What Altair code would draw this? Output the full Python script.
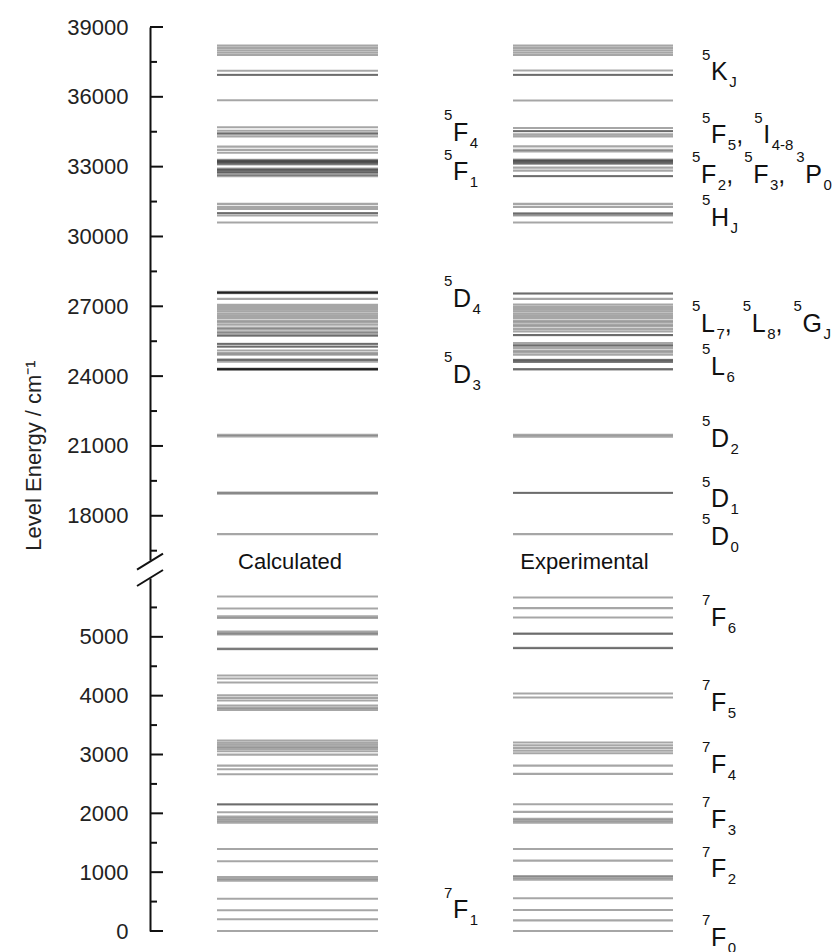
import altair as alt
import pandas as pd

# ---------------- data: crystal-field level energies (cm^-1) ----------------
CALC_UPPER = [38200, 38100, 38000, 37900, 37800, 37120, 36950, 36940, 35850,
              34690, 34540, 34430, 34420, 34300, 33860, 33720, 33600,
              33290, 33260, 33230, 33200, 33170, 33130, 33090,
              32920, 32880, 32850, 32800, 32760, 32720, 32640, 32590,
              31400, 31270, 31180, 31010, 31000, 30900, 30600,
              27620, 27600, 27590, 27570, 27560, 27320,
              27060, 26970, 26880, 26780, 26680, 26590, 26500, 26390, 26310, 26210,
              26090, 26020, 25920, 25850, 25750, 25740,
              25390, 25380, 25270, 25260, 25100, 24990, 24920, 24710, 24700, 24620,
              24320, 24310, 24300, 24290, 24280,
              21480, 21410, 19000, 18950, 17210]
EXP_UPPER = [38200, 38100, 38000, 37900, 37800, 37130, 36950, 36940, 35840,
             34660, 34530, 34520, 34390, 34300, 33870, 33720, 33650,
             33300, 33270, 33240, 33200, 33160, 33120, 32960, 32830, 32600, 32590,
             31400, 31270, 31010, 30960, 30900, 30600,
             27560, 27540, 27320,
             27070, 26970, 26880, 26780, 26680, 26590, 26500, 26390, 26310, 26210,
             26130, 26020, 25920, 25770, 25760,
             25420, 25320, 25310, 25210, 25100, 25020, 24920, 24700, 24690, 24620, 24610,
             24300, 24290,
             21480, 21400, 18990, 18980, 17210]
CALC_LOWER = [5686, 5482, 5350, 5320, 5090, 5060, 5040, 4800, 4790,
              4342, 4291, 4223, 4008, 3963, 3917, 3832, 3793, 3759,
              3237, 3200, 3165, 3130, 3095, 3056, 2998, 2811, 2750, 2665,
              2155, 2150, 2019, 1944, 1910, 1876, 1842,
              1395, 1185, 918, 884, 855,
              549, 352, 199, 0]
EXP_LOWER = [5668, 5488, 5329, 5057, 5050, 4813, 4806,
             4036, 3968,
             3203, 3158, 3112, 3066, 3022, 2811, 2670,
             2155, 2025, 1905, 1873, 1842,
             1395, 1196, 935, 907, 873,
             556, 357, 181, 0]

COLUMNS = ["Calculated", "Experimental"]

# term-symbol labels: (energy at label centre, column, [(multiplicity, L, J), ...])
UPPER_LABELS = [
    (37100, "right", [("5", "K", "J")]),
    (34400, "right", [("5", "F", "5"), ("5", "I", "4-8")]),
    (32700, "right2", [("5", "F", "2"), ("5", "F", "3"), ("3", "P", "0")]),
    (30850, "right", [("5", "H", "J")]),
    (26300, "right2", [("5", "L", "7"), ("5", "L", "8"), ("5", "G", "J")]),
    (24450, "right", [("5", "L", "6")]),
    (21350, "right", [("5", "D", "2")]),
    (18750, "right", [("5", "D", "1")]),
    (17150, "right", [("5", "D", "0")]),
    (34500, "left", [("5", "F", "4")]),
    (32800, "left", [("5", "F", "1")]),
    (27370, "left", [("5", "D", "4")]),
    (24100, "left", [("5", "D", "3")]),
]
LOWER_LABELS = [
    (5340, "right", [("7", "F", "6")]),
    (3900, "right", [("7", "F", "5")]),
    (2840, "right", [("7", "F", "4")]),
    (1910, "right", [("7", "F", "3")]),
    (1070, "right", [("7", "F", "2")]),
    (-100, "right", [("7", "F", "0")]),
    (370, "left", [("7", "F", "1")]),
]
TITLE_ENERGY = 16020

TOP_MAJOR = list(range(18000, 39001, 3000))
TOP_MINOR = list(range(16500, 39000, 3000))
BOT_MAJOR = list(range(0, 5001, 1000))
BOT_MINOR = list(range(500, 5501, 1000))

# ---------------- layout / style ----------------
FONT = "Liberation Sans"
PLOT_W = 680
TOP_H = 533
BOT_H = 353
TOP_DOMAIN = [16100, 39000]
BOT_DOMAIN = [0, 6000]
X0 = 150  # page x of plot left edge
COL_SPAN = {"Calculated": (217, 378), "Experimental": (513, 673)}
COL_TITLE_X = {"Calculated": 290, "Experimental": 584.5}
ANCHOR = {"left": 444, "right": 702, "right2": 692}
SUP_FS, MAIN_FS, SUB_FS = 15, 25, 15
ADV = {"K": .667, "F": .611, "H": .722, "D": .722, "L": .556, "I": .278, "P": .667, "G": .778}
INK = "#111"


def u(px):
    return (px - X0) / PLOT_W * 100


def w_small(s):
    return sum(0.556 if c.isdigit() else (0.333 if c == "-" else 0.5) for c in s) * SUB_FS


def label_df(labels):
    rows = []
    for E, side, terms in labels:
        x = ANCHOR[side]
        for i, (sup, main, sub) in enumerate(terms):
            rows.append(dict(role="sup", x=u(x), E=E, t=sup))
            mx = x + w_small(sup) + 0.7
            rows.append(dict(role="main", x=u(mx), E=E, t=main))
            sx = mx + ADV[main] * MAIN_FS + 1.5
            rows.append(dict(role="sub", x=u(sx), E=E, t=sub))
            end = sx + w_small(sub)
            if i < len(terms) - 1:
                rows.append(dict(role="main", x=u(end), E=E, t=","))
                x = end + 18
    return pd.DataFrame(rows)


def level_df(calc, exp):
    rows = []
    for col, vals in zip(COLUMNS, [calc, exp]):
        a, b = COL_SPAN[col]
        rows += [dict(E=e, x0=u(a), x1=u(b), col=col) for e in vals]
    return pd.DataFrame(rows)


xscale = alt.Scale(domain=[0, 100], nice=False, zero=False)


def y_axis(values, title=None):
    kw = dict(
        values=values, format="d", ticks=False,
        labelPadding=22, labelFont=FONT, labelFontSize=22, labelColor="#222",
        labelFlush=False, labelOverlap=False, labelAlign="right", labelBaseline="middle",
        domainColor=INK, domainWidth=2, grid=False,
    )
    if title:
        kw.update(title=title, titleX=-117, titleY=428, titleAngle=270,
                  titleAlign="center", titleBaseline="middle", titleFont=FONT,
                  titleFontSize=22, titleFontWeight="normal", titleColor="#222")
    else:
        kw.update(title="")
    return alt.Axis(**kw)


def panel(levels, labels, yscale, axis, height, major, minor, extra_fn):
    def Y(field):
        # every layer carries the same axis definition so the shared axis is kept
        return alt.Y(field, scale=yscale, axis=axis)

    lv = alt.Chart(levels).mark_rule(stroke="#000", strokeOpacity=0.35, strokeWidth=2.1).encode(
        x=alt.X("x0:Q", scale=xscale, axis=None),
        x2="x1:Q",
        y=Y("E:Q"),
    )
    layers = [lv]
    for vals, length in [(major, 13), (minor, 7)]:
        layers.append(
            alt.Chart(pd.DataFrame({"E": vals})).mark_rule(color=INK, strokeWidth=2).encode(
                x=alt.value(0), x2=alt.value(length), y=Y("E:Q"))
        )
    for role, fs, dy in [("sup", SUP_FS, -11.5), ("main", MAIN_FS, 9), ("sub", SUB_FS, 16)]:
        layers.append(
            alt.Chart(labels).transform_filter(alt.datum.role == role).mark_text(
                align="left", baseline="alphabetic", font=FONT, fontSize=fs, dy=dy, color=INK
            ).encode(
                x=alt.X("x:Q", scale=xscale, axis=None),
                y=Y("E:Q"),
                text="t:N",
            )
        )
    layers += extra_fn(Y)
    return alt.layer(*layers).properties(width=PLOT_W, height=height)


top_y = alt.Scale(domain=TOP_DOMAIN, nice=False, zero=False)
bot_y = alt.Scale(domain=BOT_DOMAIN, nice=False, zero=False)

titles = pd.DataFrame({"t": COLUMNS, "x": [u(COL_TITLE_X[c]) for c in COLUMNS],
                       "E": [TITLE_ENERGY] * 2})
one = pd.DataFrame({"a": [0]})


def top_extra(Y):
    return [
        alt.Chart(titles).mark_text(
            align="center", baseline="middle", font=FONT, fontSize=22, color=INK
        ).encode(x=alt.X("x:Q", scale=xscale, axis=None), y=Y("E:Q"), text="t:N"),
        alt.Chart(one).mark_rule(color=INK, strokeWidth=2).encode(
            x=alt.value(-13), x2=alt.value(13),
            y=alt.value(TOP_H + 9.7), y2=alt.value(TOP_H - 6.3)),
    ]


def bottom_extra(Y):
    return [
        alt.Chart(one).mark_rule(color=INK, strokeWidth=2).encode(
            x=alt.value(-13), x2=alt.value(13), y=alt.value(8), y2=alt.value(-8)),
    ]


top = panel(level_df(CALC_UPPER, EXP_UPPER), label_df(UPPER_LABELS), top_y,
            y_axis(TOP_MAJOR, "Level Energy / cm⁻¹"), TOP_H, TOP_MAJOR, TOP_MINOR, top_extra)
bottom = panel(level_df(CALC_LOWER, EXP_LOWER), label_df(LOWER_LABELS), bot_y,
               y_axis(BOT_MAJOR), BOT_H, BOT_MAJOR, BOT_MINOR, bottom_extra)

chart = alt.vconcat(top, bottom, spacing=18, bounds="flush").properties(
    padding={"left": 22, "top": 16, "right": 0, "bottom": 0},
    background="white",
).configure_view(stroke=None)

chart.save("out.html", embed_options={"renderer": "svg", "actions": False})
